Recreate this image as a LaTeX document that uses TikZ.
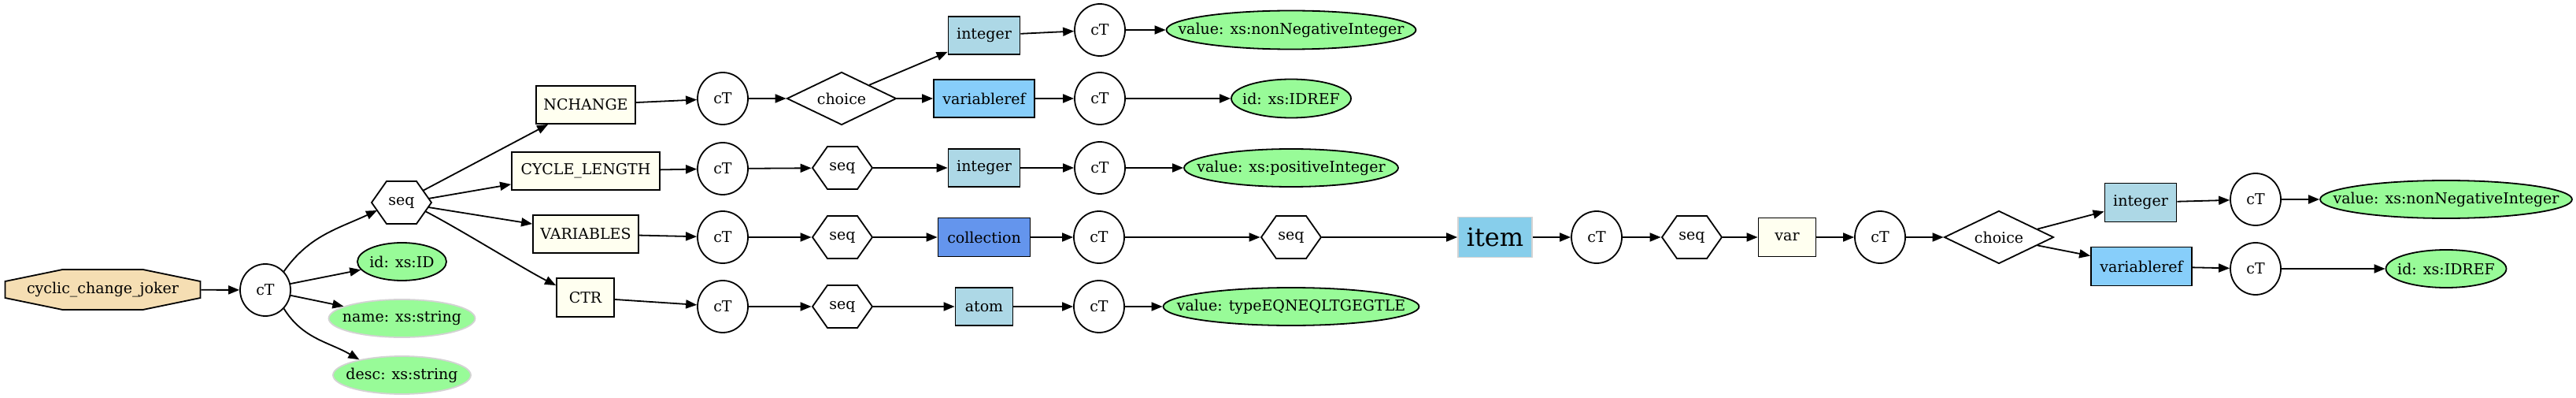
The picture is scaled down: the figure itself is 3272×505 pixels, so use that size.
\documentclass[tikz,border=0pt]{standalone}
\usepackage{fontspec}
\setmainfont{DejaVu Serif}
\usetikzlibrary{arrows.meta,shapes.geometric,calc}
\pgfdeclarelayer{bg}
\pgfsetlayers{bg,main}
\definecolor{wheatc}{HTML}{F5DEB3}
\definecolor{ivoryc}{HTML}{FFFFF0}
\definecolor{lbluec}{HTML}{ADD8E6}
\definecolor{lskyc}{HTML}{87CEFA}
\definecolor{cflowerc}{HTML}{6495ED}
\definecolor{skyc}{HTML}{87CEEB}
\definecolor{pgreenc}{HTML}{98FB98}
\definecolor{lgrayc}{HTML}{D3D3D3}
\newcommand\zw[1]{\makebox[0pt]{#1}}
\newcommand\hexdraw[1]{\draw[line width=1.8pt]
  ($(#1.center)+(-38,0)$) -- ($(#1.center)+(-19,27)$) -- ($(#1.center)+(19,27)$) --
  ($(#1.center)+(38,0)$) -- ($(#1.center)+(19,-27)$) -- ($(#1.center)+(-19,-27)$) -- cycle;}
\begin{document}
\begin{tikzpicture}[x=1pt,y=1pt,
  every node/.style={font=\fontsize{19}{23}\selectfont, inner sep=0pt, line width=1.8pt},
  ctn/.style={ellipse, draw, minimum width=64pt, minimum height=66pt},
  boxn/.style={rectangle, draw, minimum height=48pt},
  elt/.style={boxn, fill=ivoryc},
  valn/.style={ellipse, draw, fill=pgreenc, minimum height=48pt},
  attn/.style={ellipse, draw=lgrayc, fill=pgreenc, minimum height=48pt},
  hexn/.style={rectangle, minimum width=77pt, minimum height=54pt},
  chn/.style={diamond, draw, minimum width=139pt, minimum height=67pt},
  conn/.style={-{Triangle[length=14pt,width=11pt]}, line width=1.8pt},
]
\useasboundingbox (0,0) rectangle (3272,-505);
% nodes
\node[rectangle, minimum width=248pt, minimum height=51pt] (ccj) at (130.5,-367.5) {cyclic\_change\_joker};
\node[ctn] (ct1) at (337,-368) {\zw{cT}};
\node[hexn] (s1) at (510,-257) {seq};
\node[valn, minimum width=113pt] (idID) at (510.5,-332) {\zw{id: xs:ID}};
\node[attn, minimum width=186pt] (nm) at (510.5,-404) {\zw{name: xs:string}};
\node[attn, minimum width=175pt] (ds) at (510.5,-476) {\zw{desc: xs:string}};
\node[elt, minimum width=126pt] (nch) at (744,-133) {NCHANGE};
\node[elt, minimum width=188pt] (cyc) at (744,-217) {CYCLE\_LENGTH};
\node[elt, minimum width=134pt] (vars) at (744,-297) {VARIABLES};
\node[elt, minimum width=73pt, minimum height=49pt] (ctr) at (743.5,-377.5) {CTR};
\node[ctn] (ctA) at (918,-125) {\zw{cT}};
\node[ctn] (ctB) at (918,-214) {\zw{cT}};
\node[ctn] (ctC) at (918,-301) {\zw{cT}};
\node[ctn] (ctD) at (918,-389) {\zw{cT}};
\node[chn] (ch1) at (1069,-125) {\zw{choice}};
\node[hexn] (sB) at (1070,-213) {seq};
\node[hexn] (sC) at (1070,-301) {seq};
\node[hexn] (sD) at (1070,-389) {seq};
\node[boxn, fill=lbluec, minimum width=91pt] (int1) at (1250,-45) {integer};
\node[boxn, fill=lskyc, minimum width=128pt] (vr1) at (1250,-125) {variableref};
\node[boxn, fill=lbluec, minimum width=91pt] (int2) at (1250,-213) {integer};
\node[boxn, fill=cflowerc, minimum width=117pt, minimum height=49pt] (coll) at (1250,-301) {collection};
\node[boxn, fill=lbluec, minimum width=73pt] (atom) at (1250,-389) {atom};
\node[ctn] (ctE) at (1397,-38) {\zw{cT}};
\node[ctn] (ctF) at (1397,-125) {\zw{cT}};
\node[ctn] (ctG) at (1397,-213) {\zw{cT}};
\node[ctn] (ctH) at (1396,-301) {\zw{cT}};
\node[ctn] (ctI) at (1396,-389) {\zw{cT}};
\node[valn, minimum width=317pt, minimum height=49pt] (v1) at (1640,-38) {\zw{value: xs:nonNegativeInteger}};
\node[valn, minimum width=152pt, minimum height=49pt] (idr1) at (1640,-125) {\zw{id: xs:IDREF}};
\node[valn, minimum width=272pt] (v2) at (1640,-213) {\zw{value: xs:positiveInteger}};
\node[hexn] (sE) at (1640,-301) {seq};
\node[valn, minimum width=325pt] (v3) at (1640,-389) {\zw{value: typeEQNEQLTGEGTLE}};
\node[rectangle, draw=lgrayc, fill=skyc, minimum width=94pt, minimum height=51pt, font=\fontsize{32}{36}\selectfont] (item) at (1899,-301) {item};
\node[ctn] (ctJ) at (2028,-301) {\zw{cT}};
\node[hexn] (sF) at (2149,-301) {seq};
\node[elt, minimum width=73pt, minimum height=49pt] (varb) at (2270,-301) {var};
\node[ctn] (ctK) at (2388,-301) {\zw{cT}};
\node[chn] (ch2) at (2539,-301) {\zw{choice}};
\node[boxn, fill=lbluec, minimum width=91pt, minimum height=49pt] (int3) at (2719,-257) {integer};
\node[boxn, fill=lskyc, minimum width=128pt, minimum height=49pt] (vr2) at (2720,-338) {variableref};
\node[ctn] (ctL) at (2865,-253) {\zw{cT}};
\node[ctn] (ctM) at (2865,-341) {\zw{cT}};
\node[valn, minimum width=320pt] (v4) at (3107,-253) {\zw{value: xs:nonNegativeInteger}};
\node[valn, minimum width=153pt] (idr2) at (3107,-341) {\zw{id: xs:IDREF}};
% background, octagon
\begin{pgfonlayer}{bg}
\fill[white] (0,0) rectangle (3272,-505);
\draw[fill=wheatc, line width=1.8pt]
  ($(ccj.center)+(-124,10.5)$) -- ($(ccj.center)+(-51,25.5)$) -- ($(ccj.center)+(51,25.5)$) --
  ($(ccj.center)+(124,10.5)$) -- ($(ccj.center)+(124,-10.5)$) -- ($(ccj.center)+(51,-25.5)$) --
  ($(ccj.center)+(-51,-25.5)$) -- ($(ccj.center)+(-124,-10.5)$) -- cycle;
\end{pgfonlayer}
% hexagons
\hexdraw{s1}\hexdraw{sB}\hexdraw{sC}\hexdraw{sD}\hexdraw{sE}\hexdraw{sF}
% edges
\draw[conn] (ccj) -- (ct1);
\draw[conn] (ct1.45) to[out=55,in=205] ($(s1.center)+(-31,-10)$);
\draw[conn] (ct1.14) -- (idID);
\draw[conn] (ct1.-12) -- (nm);
\draw[conn] (ct1.-45) to[out=-58,in=150] (ds.160);
\draw[conn] ($(s1.center)+(27,15)$) -- ([xshift=16pt]nch.south west);
\draw[conn] ($(s1.center)+(34,5)$) -- ([yshift=8pt]cyc.south west);
\draw[conn] ($(s1.center)+(34,-6)$) -- ([yshift=-12pt]vars.north west);
\draw[conn] ($(s1.center)+(30,-11)$) .. controls +(-27:45) and +(153:45) .. ([yshift=-10pt]ctr.north west);
% NCHANGE row
\draw[conn] (nch) -- (ctA);
\draw[conn] (ctA) -- (ch1);
\draw[conn] (ch1.north east) -- ([yshift=4pt]int1.south west);
\draw[conn] (ch1) -- (vr1);
\draw[conn] (int1) -- (ctE);
\draw[conn] (ctE) -- (v1);
\draw[conn] (vr1) -- (ctF);
\draw[conn] (ctF) -- (idr1);
% CYCLE_LENGTH row
\draw[conn] (cyc) -- (ctB);
\draw[conn] (ctB) -- (sB);
\draw[conn] (sB) -- (int2);
\draw[conn] (int2) -- (ctG);
\draw[conn] (ctG) -- (v2);
% VARIABLES row
\draw[conn] (vars) -- (ctC);
\draw[conn] (ctC) -- (sC);
\draw[conn] (sC) -- (coll);
\draw[conn] (coll) -- (ctH);
\draw[conn] (ctH) -- (sE);
\draw[conn] (sE) -- (item);
\draw[conn] (item) -- (ctJ);
\draw[conn] (ctJ) -- (sF);
\draw[conn] (sF) -- (varb);
\draw[conn] (varb) -- (ctK);
\draw[conn] (ctK) -- (ch2);
\draw[conn] (ch2.12) -- ([yshift=14pt]int3.south west);
\draw[conn] (ch2.-12) -- ([yshift=-12pt]vr2.north west);
\draw[conn] (int3) -- (ctL);
\draw[conn] (ctL) -- (v4);
\draw[conn] (vr2) -- (ctM);
\draw[conn] (ctM) -- (idr2);
% CTR row
\draw[conn] (ctr) -- (ctD);
\draw[conn] (ctD) -- (sD);
\draw[conn] (sD) -- (atom);
\draw[conn] (atom) -- (ctI);
\draw[conn] (ctI) -- (v3);
\end{tikzpicture}
\end{document}
